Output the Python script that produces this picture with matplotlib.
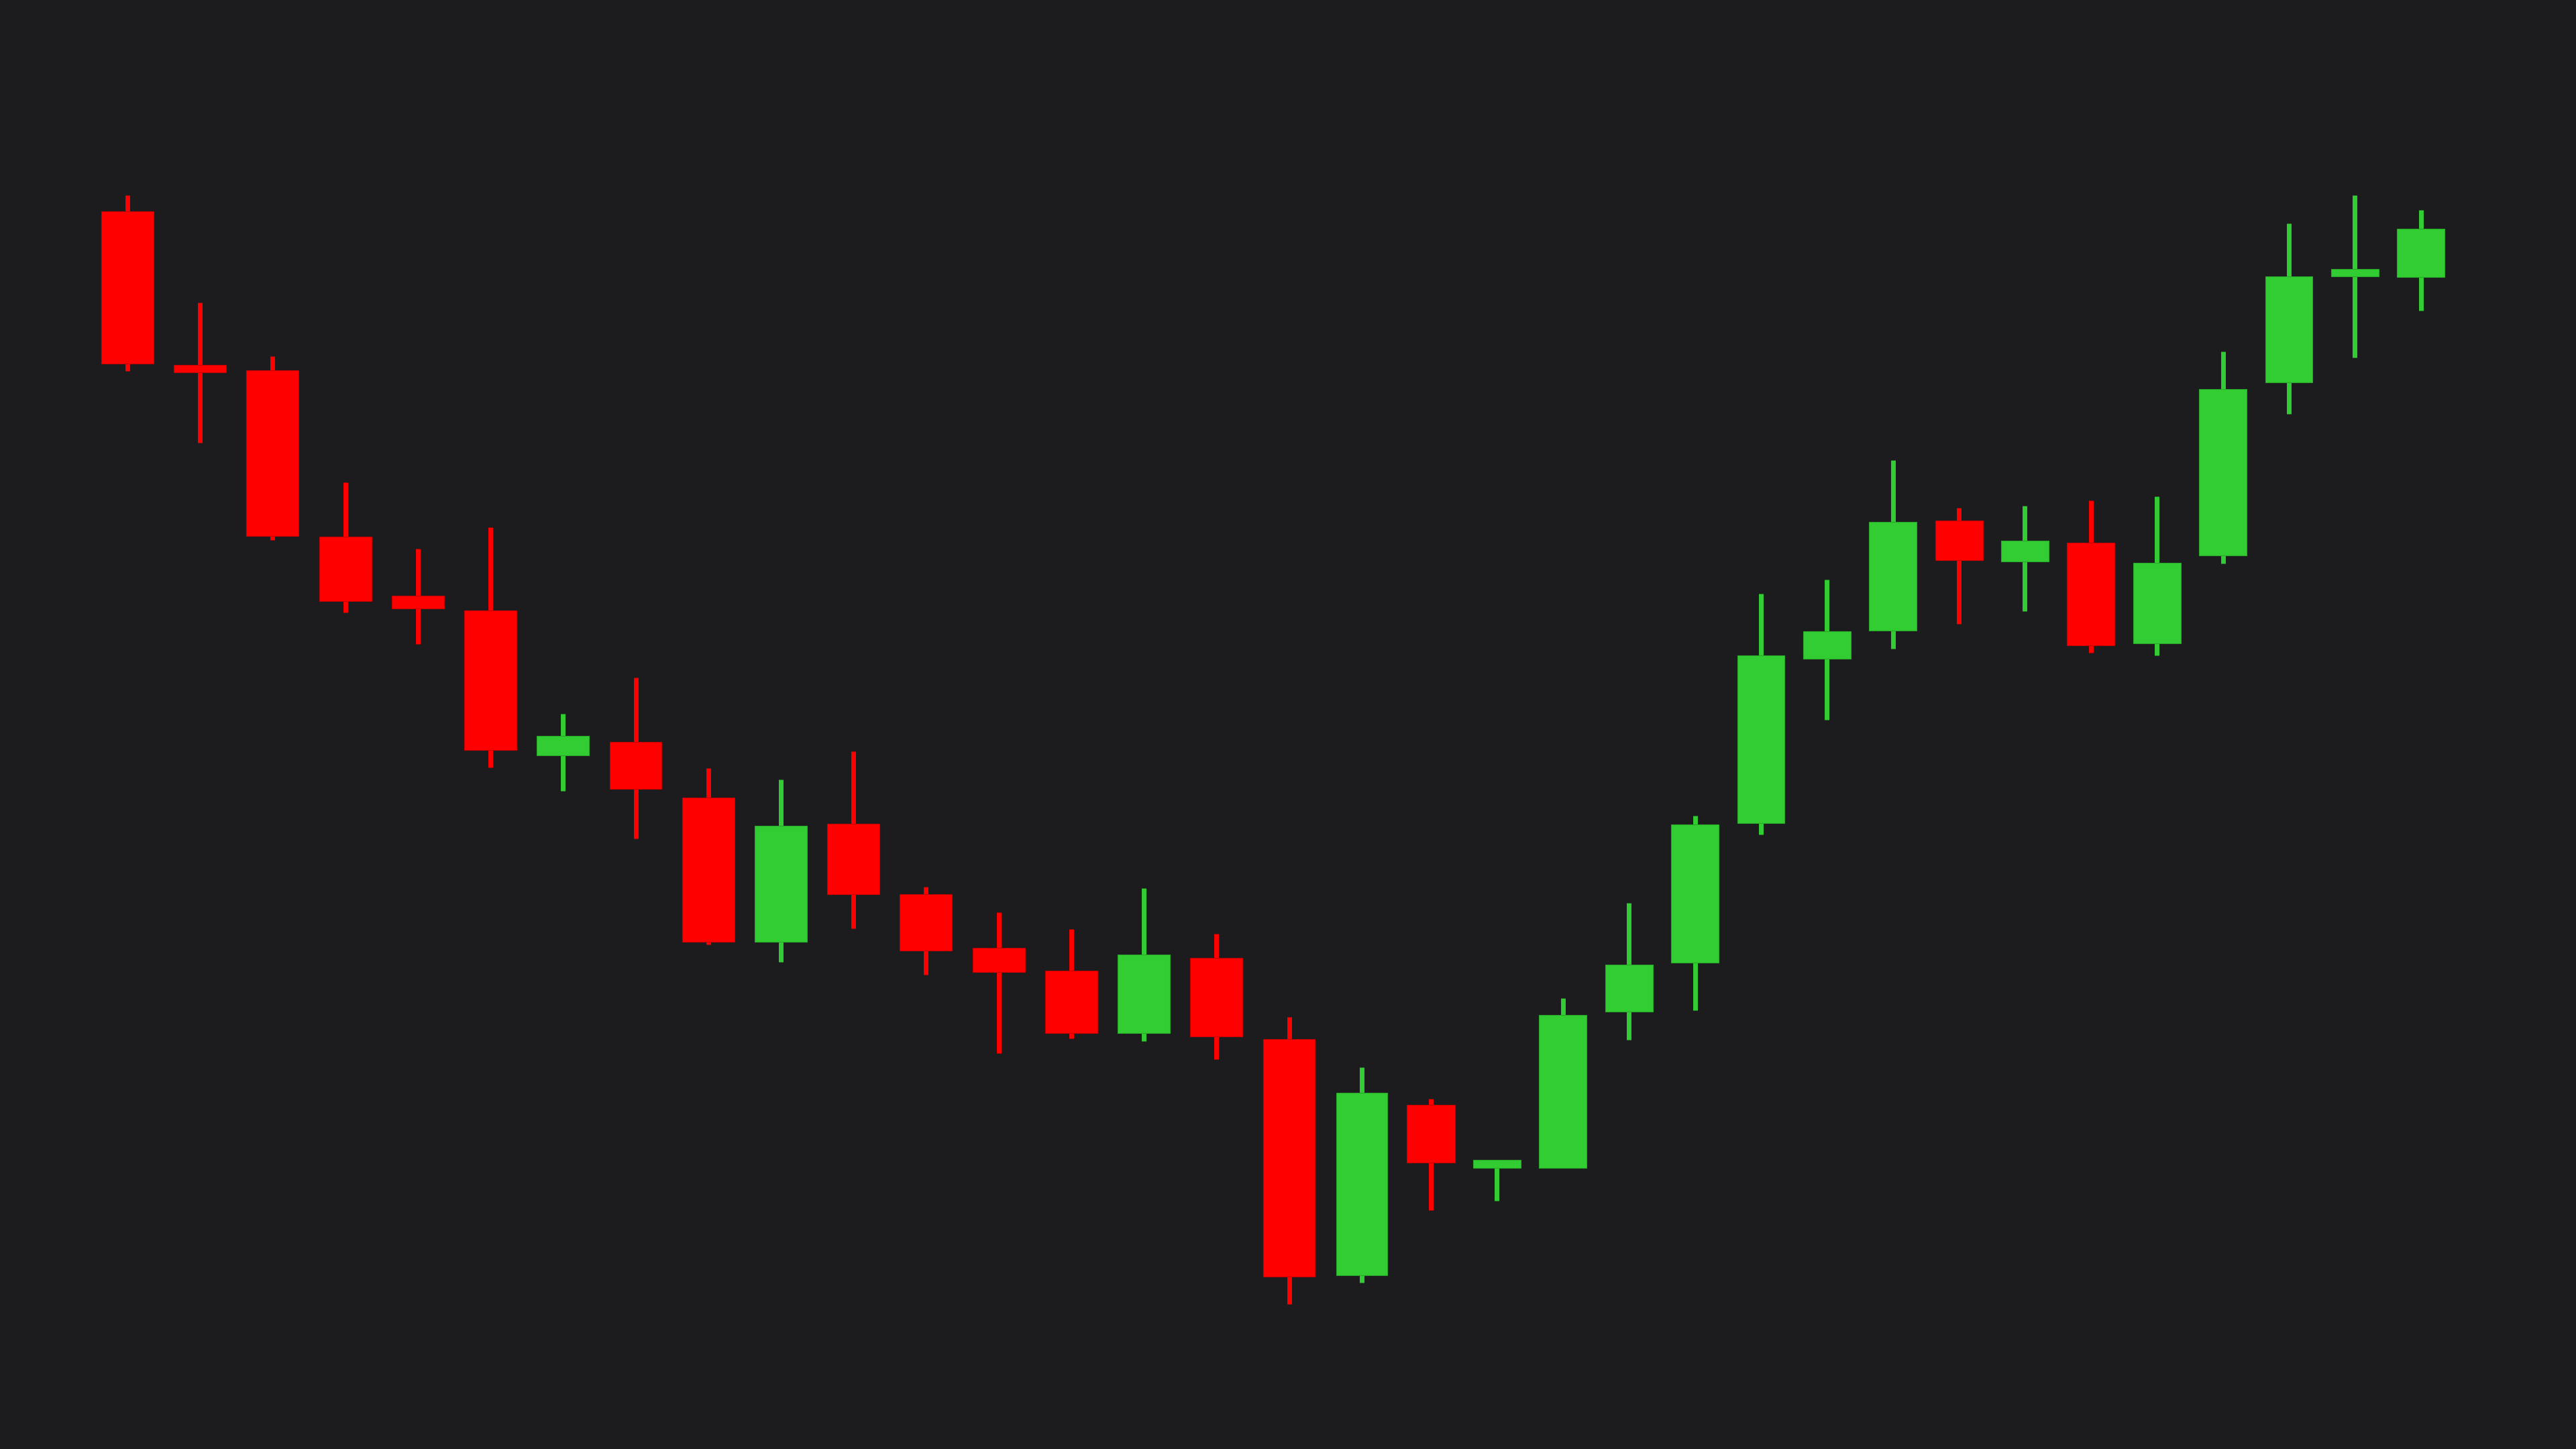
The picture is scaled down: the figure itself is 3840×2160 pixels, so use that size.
import matplotlib
matplotlib.use("Agg")
import matplotlib.pyplot as plt
import numpy as np

# time positions (sessions)
t = [0.0, 1.1, 2.2, 3.3, 4.4, 5.5, 6.6, 7.7, 8.8, 9.9, 11.0, 12.1, 13.2, 14.3,
     15.4, 16.5, 17.6, 18.7, 19.75, 20.75, 21.75, 22.75, 23.75, 24.75, 25.75,
     26.75, 27.75, 28.75, 29.75, 30.75, 31.75, 32.75, 33.75, 34.75]

opens = [142.26, 130.81, 130.40, 117.98, 113.61, 112.49, 101.71, 102.69, 98.56, 87.82,
         96.60, 91.37, 87.33, 85.66, 80.99, 86.62, 80.57, 62.94, 75.64, 70.93,
         70.97, 82.60, 86.27, 96.63, 108.90, 111.02, 119.20, 116.14, 117.57, 110.05,
         116.60, 129.48, 137.40, 137.33]
highs = [143.46, 135.43, 131.44, 122.05, 117.09, 118.69, 104.81, 107.51, 100.73, 99.90,
         102.00, 91.91, 90.01, 88.76, 91.82, 88.38, 82.20, 78.45, 76.10, 71.57,
         83.58, 90.70, 97.21, 113.75, 114.81, 123.68, 120.17, 120.29, 120.72, 120.99,
         131.80, 141.35, 143.45, 142.35]
lows = [130.35, 124.98, 117.75, 112.35, 110.00, 100.78, 99.05, 95.52, 87.58, 86.31,
        88.78, 85.35, 79.50, 80.61, 80.39, 79.07, 60.79, 62.38, 67.82, 68.49,
        70.97, 80.50, 82.70, 95.81, 104.33, 109.63, 111.48, 112.45, 109.33, 109.14,
        115.99, 127.13, 131.37, 134.83]
closes = [130.89, 130.23, 118.03, 113.21, 112.64, 102.10, 103.14, 99.21, 87.82, 96.46,
          91.33, 87.15, 85.55, 80.99, 86.84, 80.73, 62.87, 76.53, 71.33, 71.57,
          82.33, 86.08, 96.54, 109.17, 110.96, 119.11, 116.23, 117.69, 109.90, 116.05,
          128.98, 137.38, 137.94, 140.95]

UP = "#32cd32"
DOWN = "#ff0000"
UP_EDGE = "#2aa82a"
DOWN_EDGE = "#c80000"
BG = "#1c1c1e"

x = np.array(t)
o = np.array(opens); h = np.array(highs); l = np.array(lows); c = np.array(closes)
up = c >= o
colors = np.where(up, UP, DOWN)
edges = np.where(up, UP_EDGE, DOWN_EDGE)

# candle width proportional to local spacing
d = np.diff(x)
local = np.empty_like(x)
local[0] = d[0]; local[-1] = d[-1]
local[1:-1] = (d[:-1] + d[1:]) / 2
widths = 0.72 * local

fig = plt.figure(figsize=(38.4, 21.6), dpi=100, facecolor=BG)
ax = fig.add_axes([0, 0, 1, 1])
ax.set_facecolor(BG)

ax.vlines(x, l, h, colors=colors, linewidth=5.0, zorder=1)
body = np.where(np.abs(c - o) < 0.01, 0.01, c - o)
ax.bar(x, body, bottom=o, width=widths, color=colors, edgecolor=edges,
       linewidth=0.8, zorder=2)

ax.set_xlim(-1.931, 37.10)
ax.set_ylim(50, 158)
ax.axis("off")

fig.savefig("out.png", dpi=100, facecolor=BG)
